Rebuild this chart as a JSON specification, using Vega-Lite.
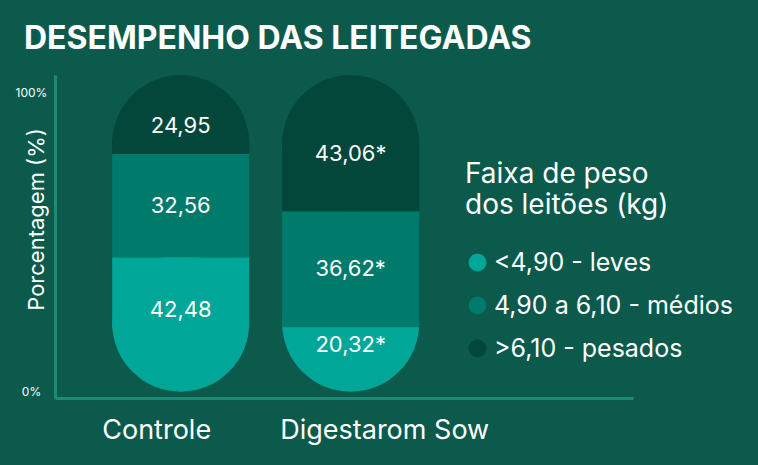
{
  "$schema": "https://vega.github.io/schema/vega-lite/v6.json",
  "width": 578,
  "height": 323,
  "autosize": "none",
  "padding": {"left": 55, "top": 75, "right": 125, "bottom": 67},
  "background": "#0b5a4b",
  "config": {"view": {"stroke": null}, "font": "Inter"},
  "title": {
    "text": "DESEMPENHO DAS LEITEGADAS",
    "anchor": "start",
    "frame": "group",
    "dx": -31,
    "offset": 19,
    "fontSize": 32,
    "fontWeight": "bold",
    "color": "#ffffff",
    "font": "Inter"
  },
  "data": {
    "values": [
      {"grupo": "Controle", "faixa": "<4,90 - leves", "ordem": 1, "valor": 42.48, "rotulo": "42,48"},
      {"grupo": "Controle", "faixa": "4,90 a 6,10 - médios", "ordem": 2, "valor": 32.56, "rotulo": "32,56"},
      {"grupo": "Controle", "faixa": ">6,10 - pesados", "ordem": 3, "valor": 24.95, "rotulo": "24,95"},
      {"grupo": "Digestarom Sow", "faixa": "<4,90 - leves", "ordem": 1, "valor": 20.32, "rotulo": "20,32*"},
      {"grupo": "Digestarom Sow", "faixa": "4,90 a 6,10 - médios", "ordem": 2, "valor": 36.62, "rotulo": "36,62*"},
      {"grupo": "Digestarom Sow", "faixa": ">6,10 - pesados", "ordem": 3, "valor": 43.06, "rotulo": "43,06*"}
    ]
  },
  "transform": [
    {"stack": "valor", "groupby": ["grupo"], "sort": [{"field": "ordem", "order": "ascending"}], "as": ["ini", "fim"]},
    {"calculate": "clamp(datum.ini, 20, 80)", "as": "corpo_ini"},
    {"calculate": "clamp(datum.fim, 20, 80)", "as": "corpo_fim"},
    {"calculate": "(clamp(datum.ini, 9, 93) + clamp(datum.fim, 9, 93)) / 2", "as": "meio"}
  ],
  "encoding": {
    "x": {
      "field": "grupo",
      "type": "nominal",
      "scale": {"domain": ["Controle", "Digestarom Sow"], "paddingInner": 0.194, "paddingOuter": 0.797, "align": 0.211},
      "axis": {
        "title": null,
        "labelAngle": 0,
        "labelColor": "#ffffff",
        "labelFontSize": 27,
        "labelLimit": 400,
        "labelPadding": 19,
        "labelOffset": {"condition": {"test": "datum.value == 'Controle'", "value": -24}, "value": 34},
        "ticks": false,
        "domainColor": "#1b8b75",
        "domainWidth": 3
      }
    },
    "color": {
      "field": "faixa",
      "type": "nominal",
      "scale": {
        "domain": ["<4,90 - leves", "4,90 a 6,10 - médios", ">6,10 - pesados"],
        "range": ["#00a698", "#007b6b", "#03473a"]
      },
      "legend": {
        "orient": "none",
        "legendX": 410,
        "legendY": 86,
        "title": ["Faixa de peso", "dos leitões (kg)"],
        "titleFontSize": 28,
        "titleFontWeight": "normal",
        "titleColor": "#ffffff",
        "titleLineHeight": 31,
        "titlePadding": 30,
        "titleLimit": 400,
        "labelFontSize": 25,
        "labelColor": "#ffffff",
        "labelLimit": 400,
        "labelOffset": 4,
        "symbolType": "circle",
        "symbolSize": 324,
        "symbolStrokeWidth": 0,
        "symbolOpacity": 1,
        "rowPadding": 17
      }
    }
  },
  "layer": [
    {
      "transform": [{"filter": "datum.ordem == 1"}],
      "mark": {"type": "circle", "size": 18769, "opacity": 1},
      "encoding": {
        "y": {"datum": 21.63, "type": "quantitative"}
      }
    },
    {
      "transform": [{"filter": "datum.ordem == 3"}],
      "mark": {"type": "circle", "size": 18769, "opacity": 1},
      "encoding": {
        "y": {"datum": 78.37, "type": "quantitative"}
      }
    },
    {
      "mark": {"type": "bar", "size": 137},
      "encoding": {
        "y": {
          "field": "corpo_ini",
          "type": "quantitative",
          "scale": {"domain": [-2, 100], "nice": false, "zero": false},
          "axis": {
            "values": [0, 100],
            "labelExpr": "datum.value + '%'",
            "title": "Porcentagem (%)",
            "titleFontSize": 22,
            "titleFontWeight": "normal",
            "titleColor": "#ffffff",
            "titleX": -19,
            "titleY": 144,
            "titleBaseline": "middle",
            "titleAngle": -90,
            "labelColor": "#ffffff",
            "labelFontSize": 12,
            "labelAlign": "center",
            "labelPadding": 24,
            "labelOffset": {"condition": {"test": "datum.value == 100", "value": 17}, "value": 0},
            "ticks": false,
            "grid": false,
            "domainColor": "#1b8b75",
            "domainWidth": 3
          }
        },
        "y2": {"field": "corpo_fim"}
      }
    },
    {
      "mark": {"type": "text", "fontSize": 22, "color": "#ffffff", "baseline": "middle"},
      "encoding": {
        "y": {"field": "meio", "type": "quantitative"},
        "text": {"field": "rotulo"},
        "color": {"value": "#ffffff"}
      }
    }
  ]
}
